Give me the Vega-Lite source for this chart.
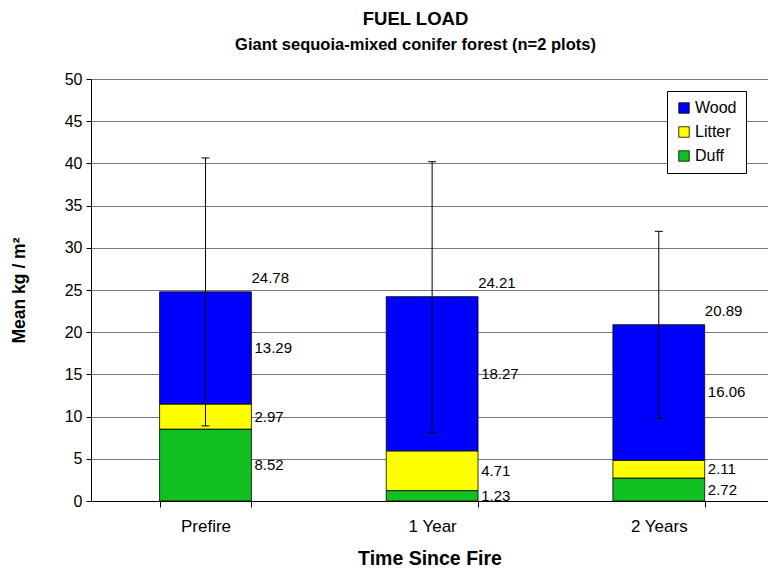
{
  "$schema": "https://vega.github.io/schema/vega-lite/v6.json",
  "width": 677,
  "height": 422,
  "autosize": {"type": "none"},
  "padding": {"left": 91, "top": 79, "right": 0, "bottom": 68},
  "background": "white",
  "config": {"font": "Liberation Sans", "view": {"stroke": null}},
  "title": {
    "text": "FUEL LOAD",
    "subtitle": "Giant sequoia-mixed conifer forest (n=2 plots)",
    "fontSize": 18.5,
    "subtitleFontSize": 16.5,
    "fontWeight": "bold",
    "subtitleFontWeight": "bold",
    "color": "black",
    "subtitleColor": "black",
    "anchor": "middle",
    "frame": "group",
    "dx": -14,
    "offset": 18,
    "subtitlePadding": 8
  },
  "datasets": {
    "components": [
      {"time": "Prefire", "component": "Duff", "value": 8.52},
      {"time": "Prefire", "component": "Litter", "value": 2.97},
      {"time": "Prefire", "component": "Wood", "value": 13.29},
      {"time": "1 Year", "component": "Duff", "value": 1.23},
      {"time": "1 Year", "component": "Litter", "value": 4.71},
      {"time": "1 Year", "component": "Wood", "value": 18.27},
      {"time": "2 Years", "component": "Duff", "value": 2.72},
      {"time": "2 Years", "component": "Litter", "value": 2.11},
      {"time": "2 Years", "component": "Wood", "value": 16.06}
    ],
    "totals": [
      {"time": "Prefire", "total": 24.78, "low": 8.9, "high": 40.65},
      {"time": "1 Year", "total": 24.21, "low": 8.15, "high": 40.2},
      {"time": "2 Years", "total": 20.89, "low": 9.75, "high": 31.95}
    ]
  },
  "layer": [
    {
      "data": {"name": "components"},
      "transform": [
        {"stack": "value", "groupby": ["time"], "sort": [{"field": "component", "order": "ascending"}], "as": ["v0", "v1"]},
        {"calculate": "(datum.v0 + datum.v1) / 2", "as": "mid"}
      ],
      "layer": [
        {
          "mark": {"type": "bar", "stroke": "black", "strokeWidth": 0.8},
          "encoding": {
            "x": {
              "field": "time", "type": "nominal",
              "sort": ["Prefire", "1 Year", "2 Years"],
              "scale": {"paddingInner": 0.595, "paddingOuter": 0.291, "align": 0.52},
              "title": "Time Since Fire",
              "axis": {
                "labelAngle": 0, "labelFontSize": 17, "labelColor": "black", "labelPadding": 11,
                "tickBand": "extent", "tickSize": 6, "tickColor": "black", "domainColor": "black",
                "titleFontSize": 19.5, "titleFontWeight": "bold", "titleColor": "black", "titlePadding": 15
              }
            },
            "y": {
              "field": "v1", "type": "quantitative",
              "scale": {"domain": [0, 50], "nice": false},
              "title": "Mean kg / m²",
              "axis": {
                "values": [0, 5, 10, 15, 20, 25, 30, 35, 40, 45, 50],
                "grid": true, "gridColor": "#777", "gridWidth": 1,
                "domainColor": "black", "tickColor": "black", "tickSize": 5,
                "labelFontSize": 16, "labelColor": "black", "labelPadding": 4,
                "titleFontSize": 17.5, "titleFontWeight": "bold", "titleColor": "black", "titlePadding": 36
              }
            },
            "y2": {"field": "v0"},
            "color": {
              "field": "component", "type": "nominal",
              "scale": {"domain": ["Wood", "Litter", "Duff"], "range": ["#0000FF", "#FFFF00", "#12C021"]},
              "legend": {
                "orient": "none", "legendX": 576, "legendY": 12, "title": null,
                "strokeColor": "black", "fillColor": "white", "padding": 9,
                "symbolType": "square", "symbolSize": 110, "symbolStrokeColor": "black", "symbolStrokeWidth": 0.8,
                "symbolOpacity": 1, "labelFontSize": 16, "labelColor": "black", "rowPadding": 8, "labelOffset": 3
              }
            }
          }
        },
        {
          "mark": {"type": "text", "align": "left", "baseline": "middle", "dx": 49, "fontSize": 15, "color": "black"},
          "encoding": {
            "x": {"field": "time", "type": "nominal", "sort": ["Prefire", "1 Year", "2 Years"]},
            "y": {"field": "mid", "type": "quantitative"},
            "text": {"field": "value", "type": "quantitative", "format": ".2f"}
          }
        }
      ]
    },
    {
      "data": {"name": "totals"},
      "layer": [
        {
          "mark": {"type": "rule", "color": "black", "strokeWidth": 1},
          "encoding": {
            "x": {"field": "time", "type": "nominal", "sort": ["Prefire", "1 Year", "2 Years"]},
            "y": {"field": "low", "type": "quantitative"},
            "y2": {"field": "high"}
          }
        },
        {
          "mark": {"type": "tick", "color": "black", "size": 8, "thickness": 1, "opacity": 1},
          "encoding": {
            "x": {"field": "time", "type": "nominal", "sort": ["Prefire", "1 Year", "2 Years"]},
            "y": {"field": "low", "type": "quantitative"}
          }
        },
        {
          "mark": {"type": "tick", "color": "black", "size": 8, "thickness": 1, "opacity": 1},
          "encoding": {
            "x": {"field": "time", "type": "nominal", "sort": ["Prefire", "1 Year", "2 Years"]},
            "y": {"field": "high", "type": "quantitative"}
          }
        },
        {
          "mark": {"type": "text", "align": "left", "baseline": "bottom", "dx": 46, "dy": -6, "fontSize": 15, "color": "black"},
          "encoding": {
            "x": {"field": "time", "type": "nominal", "sort": ["Prefire", "1 Year", "2 Years"]},
            "y": {"field": "total", "type": "quantitative"},
            "text": {"field": "total", "type": "quantitative", "format": ".2f"}
          }
        }
      ]
    }
  ]
}
